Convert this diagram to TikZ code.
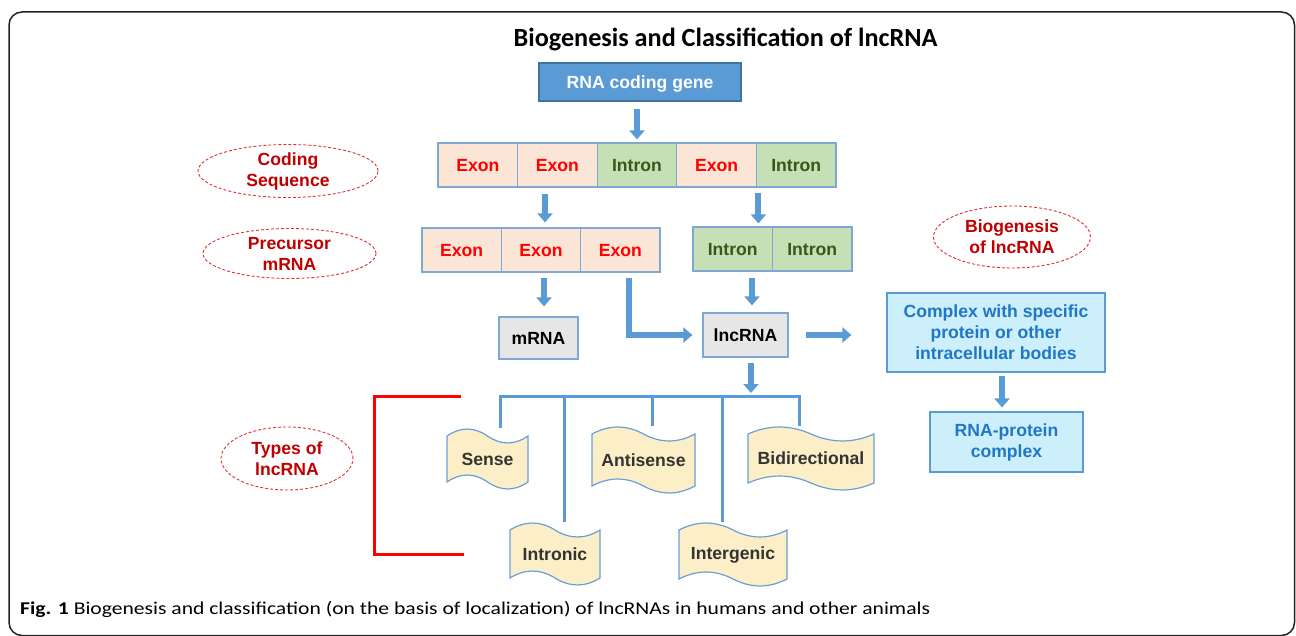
\documentclass[tikz,border=0pt]{standalone}
\usepackage{fontspec}
\setmainfont{Liberation Sans}
\newfontfamily\titlefont{Carlito}
\usetikzlibrary{arrows.meta,shapes.geometric,calc}
\definecolor{gblue}{HTML}{5B9BD5}
\definecolor{gblueD}{HTML}{41719C}
\definecolor{bord}{HTML}{7FA7D4}
\definecolor{exfill}{HTML}{FBE5D6}
\definecolor{extext}{HTML}{FF0000}
\definecolor{infill}{HTML}{C5E0B4}
\definecolor{intext}{HTML}{38571A}
\definecolor{grayfill}{HTML}{E7E6E6}
\definecolor{cyanfill}{HTML}{CDEFFC}
\definecolor{cyantext}{HTML}{1F77C6}
\definecolor{wavefill}{HTML}{FCEFC7}
\definecolor{wavebord}{HTML}{6A9FD6}
\definecolor{ellred}{HTML}{C00000}
\definecolor{ellbord}{HTML}{E03030}
\definecolor{frame}{HTML}{222222}
\definecolor{wtext}{HTML}{333333}
\tikzset{
  fnt/.style={font=\fontsize{17.6}{21}\selectfont\bfseries},
  exonbox/.style={fnt,draw=bord,line width=1.2pt,fill=exfill,text=extext,minimum width=79.6pt,minimum height=44pt,inner sep=0pt,text depth=0pt},
  intronbox/.style={fnt,draw=bord,line width=1.2pt,fill=infill,text=intext,minimum width=79.6pt,minimum height=44pt,inner sep=0pt,text depth=0pt},
  graybox/.style={fnt,draw=bord,line width=1.2pt,fill=grayfill,text=black,inner sep=0pt,text depth=0pt},
  cyanbox/.style={fnt,draw=gblue,line width=1.2pt,fill=cyanfill,text=cyantext,align=center,inner sep=0pt},
  ell/.style={fnt,ellipse,draw=ellbord,densely dashed,line width=0.9pt,text=ellred,align=center,inner sep=0pt},
  barrow/.style={draw=gblue,line width=6pt,-{Triangle[width=15pt,length=9pt]}},
  tree/.style={draw=gblue,line width=3pt},
  bracket/.style={draw=red,line width=3pt},
  wshape/.style={draw=wavebord,line width=1.2pt,fill=wavefill},
  wlabel/.style={fnt,text=wtext,inner sep=0pt}
}
\newcommand\wavebox[6]{%
  \pgfmathsetmacro\wX{#2}\pgfmathsetmacro\wY{#3}\pgfmathsetmacro\wXX{#4}\pgfmathsetmacro\wYY{#5}%
  \pgfmathsetmacro\wW{\wXX-\wX}\pgfmathsetmacro\wM{(\wX+\wXX)/2}%
  \pgfmathsetmacro\wS{\wW/6}\pgfmathsetmacro\wT{\wW/3}\pgfmathsetmacro\wA{9.3}%
  \path[wshape] (\wX,\wY) .. controls ({\wX+\wS},{\wY-\wA}) and ({\wX+\wT},{\wY-\wA}) .. (\wM,\wY)
     .. controls ({\wM+\wS},{\wY+\wA}) and ({\wM+\wT},{\wY+\wA}) .. (\wXX,\wY)
     -- (\wXX,\wYY) .. controls ({\wXX-\wS},{\wYY+\wA}) and ({\wXX-\wT},{\wYY+\wA}) .. (\wM,\wYY)
     .. controls ({\wM-\wS},{\wYY-\wA}) and ({\wM-\wT},{\wYY-\wA}) .. (\wX,\wYY) -- cycle;
  \node[wlabel,minimum width=\wW pt,minimum height={\wYY-\wY+16}] (#1) at (\wM,{(\wY+\wYY)/2}) {#6};
}
\begin{document}
\begin{tikzpicture}[x=1pt,y=-1pt]
\useasboundingbox (0,0) rectangle (1296,636);
\draw[frame,line width=1.5pt,rounded corners=13pt] (9,12) rectangle (1294.5,635.5);
% title
\node[font=\titlefont\fontsize{26.2}{28}\selectfont\bfseries,inner sep=0pt] (title) at (725.5,40) {Biogenesis and Classification of lncRNA};
% gene
\node[fnt,draw=gblueD,line width=1.2pt,fill=gblue,text=white,minimum width=202pt,minimum height=38pt,inner sep=0pt,text depth=0pt] (gene) at (640,82) {RNA coding gene};
% row 1
\node[exonbox] (r1a) at (477.8,165) {Exon};
\node[exonbox] (r1b) at (557.4,165) {Exon};
\node[intronbox] (r1c) at (637,165) {Intron};
\node[exonbox] (r1d) at (716.6,165) {Exon};
\node[intronbox] (r1e) at (796.2,165) {Intron};
% row 2
\node[exonbox,minimum width=79.3pt] (r2a) at (461.7,250) {Exon};
\node[exonbox,minimum width=79.3pt] (r2b) at (541,250) {Exon};
\node[exonbox,minimum width=79.3pt] (r2c) at (620.3,250) {Exon};
\node[intronbox,minimum width=79.5pt] (r2d) at (732.75,249) {Intron};
\node[intronbox,minimum width=79.5pt] (r2e) at (812.25,249) {Intron};
% row 3
\node[graybox,minimum width=79pt,minimum height=42pt] (mrna) at (538.5,338) {mRNA};
\node[graybox,minimum width=85pt,minimum height=44pt] (lnc) at (745.5,335) {lncRNA};
\node[cyanbox,minimum width=218pt,minimum height=79pt] (cplx) at (996,332.5) {Complex with specific\\protein or other\\intracellular bodies};
\node[cyanbox,minimum width=153pt,minimum height=60pt] (rnap) at (1006.5,442) {RNA-protein\\complex};
% ellipses
\node[ell,minimum width=180pt,minimum height=53pt] (ecs) at (288,171) {Coding\\Sequence};
\node[ell,minimum width=173pt,minimum height=50pt] (epm) at (289.5,253.5) {Precursor\\mRNA};
\node[ell,minimum width=157pt,minimum height=62pt] (ebl) at (1012,237) {Biogenesis\\of lncRNA};
\node[ell,minimum width=132pt,minimum height=63pt] (etl) at (287,458.5) {Types of\\lncRNA};
% arrows
\draw[barrow,shorten <=7pt,shorten >=3pt] (gene.south -| r1c) -- (r1c.north);
\draw[barrow,shorten <=6pt,shorten >=5pt] ([xshift=4pt]r2b.north |- r1b.south) -- ([xshift=4pt]r2b.north);
\draw[barrow,shorten <=5pt,shorten >=3pt] ([xshift=2.6pt]r1e.south west) -- ([xshift=2.6pt]r1e.south west |- r2d.north);
\draw[barrow,shorten <=5pt,shorten >=10pt] ([xshift=5.5pt]mrna.north |- r2b.south) -- ([xshift=5.5pt]mrna.north);
\draw[barrow,shorten <=6pt,shorten >=7pt] ([xshift=6.5pt]lnc.north |- r2d.south) -- ([xshift=6.5pt]lnc.north);
\draw[barrow,shorten <=5pt,shorten >=10pt] ([xshift=8.7pt]r2c.south) |- (lnc.west);
\draw[barrow,shorten <=17pt,shorten >=35pt] (lnc.east) -- (lnc.east -| cplx.west);
\draw[barrow,shorten <=3pt,shorten >=4pt] ([xshift=-4.5pt]rnap.north |- cplx.south) -- ([xshift=-4.5pt]rnap.north);
\coordinate (hub) at (751,396);
\draw[barrow,shorten <=5pt,shorten >=3pt] (hub |- lnc.south) -- (hub);
% types
\wavebox{sense}{447}{436}{528}{482}{Sense}
\wavebox{anti}{592}{434}{695}{486}{Antisense}
\wavebox{bidir}{748}{434}{874}{483}{Bidirectional}
\wavebox{intron}{510}{530}{600}{578}{Intronic}
\wavebox{inter}{679}{530}{787}{579}{Intergenic}
\draw[tree] ([xshift=12.5pt]sense.north) |- (hub);
\draw[tree] ([xshift=-12pt]bidir.north) |- (hub);
\draw[tree] ([xshift=8.5pt]anti.north) -- ([xshift=8.5pt]anti.north |- hub);
\draw[tree] ([xshift=9pt]intron.north) -- ([xshift=9pt]intron.north |- hub);
\draw[tree] ([xshift=-11pt]inter.north) -- ([xshift=-11pt]inter.north |- hub);
% bracket
\coordinate (bt) at (461,396);
\coordinate (bc) at (374,396);
\coordinate (bb) at (464,554);
\draw[bracket] (bt) -- (bc) |- (bb);
% caption
\node[anchor=base west,inner sep=0pt,font=\titlefont\fontsize{18}{20}\selectfont] (cap) at (20,614) {\scalebox{1.2}[1]{\textbf{Fig. 1} Biogenesis and classification (on the basis of localization) of lncRNAs in humans and other animals}};
\end{tikzpicture}
\end{document}
